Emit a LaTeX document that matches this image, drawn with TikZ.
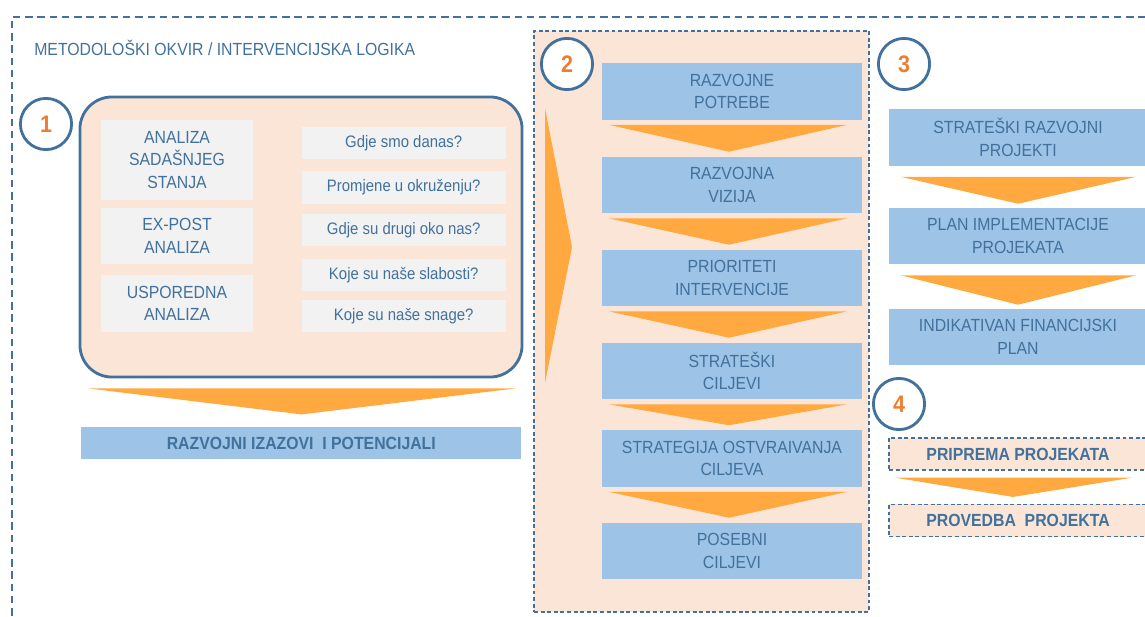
\documentclass[tikz,border=0pt]{standalone}
\usepackage{fontspec}
\setmainfont{Liberation Sans}[FakeStretch=0.9]
\usetikzlibrary{calc}

\definecolor{okvirplava}{HTML}{41719C}
\definecolor{tekstplava}{HTML}{41719C}
\definecolor{svijetloplava}{HTML}{9DC3E6}
\definecolor{breskva}{HTML}{FBE5D6}
\definecolor{sivkasta}{HTML}{F2F2F2}
\definecolor{narancasta}{HTML}{FFA940}
\definecolor{brojka}{HTML}{ED7D31}

\newcommand\boxfont{\fontsize{12.5}{16}\selectfont}
\newcommand\askfont{\fontsize{11.8}{14}\selectfont}
\newcommand\numfont{\fontsize{17}{20}\selectfont\bfseries}

\tikzset{
  plavi/.style={fill=svijetloplava, text=tekstplava, inner sep=0pt, align=center,
    minimum width=6.5cm, minimum height=1.4cm, font=\boxfont},
  sivi/.style={fill=sivkasta, text=tekstplava, inner sep=0pt, align=center,
    minimum width=3.775cm, minimum height=1.4cm, font=\boxfont},
  pitanje/.style={fill=sivkasta, text=tekstplava, inner sep=0pt,
    minimum width=5.1cm, minimum height=0.8cm, font=\askfont},
  crtkani/.style={fill=breskva, draw=okvirplava, line width=0.8pt, dash pattern=on 2.8pt off 1.9pt,
    text=tekstplava, inner sep=0pt, minimum width=6.45cm, minimum height=0.8cm, font=\boxfont\bfseries},
  krug/.style={circle, draw=okvirplava, line width=2pt, fill=white, inner sep=0pt,
    minimum size=1.28cm, text=brojka, font=\numfont},
  strelica/.style={fill=narancasta},
}

\begin{document}
\begin{tikzpicture}[x=0.025cm, y=-0.025cm]
  \useasboundingbox (0,0) rectangle (1145,617);

  % vanjski okvir
  \draw[okvirplava, line width=1.2pt, dash pattern=on 5.3pt off 3.4pt] (12,640) -- (12,17) -- (1170,17);
  \node[anchor=base west, text=tekstplava, inner sep=0pt, font=\boxfont] (naslov) at (34,56)
    {METODOLOŠKI OKVIR / INTERVENCIJSKA LOGIKA};

  % 1 - analiza
  \node[draw=okvirplava, fill=breskva, line width=2pt, rounded corners=0.8cm,
    minimum width=11.05cm, minimum height=7cm] (okvir1) at (301,237) {};
  \node[krug] (k1) at (46,124) {1};

  \node[sivi, minimum height=1.975cm] (a1) at (177,160) {ANALIZA\\SADAŠNJEG\\STANJA};
  \node[sivi] (a2) at (177,236) {EX-POST\\ANALIZA};
  \node[sivi] (a3) at (177,303.5) {USPOREDNA\\ANALIZA};

  \foreach \y/\t [count=\i] in {143/Gdje smo danas?, 187.5/Promjene u okruženju?,
      230/Gdje su drugi oko nas?, 275/Koje su naše slabosti?, 316/Koje su naše snage?}
    \node[pitanje] (q\i) at (403.7,\y) {\t};

  \node[plavi, minimum width=11cm, minimum height=0.815cm, font=\boxfont\bfseries] (izazovi) at (301.3,443)
    {RAZVOJNI IZAZOVI\ \ I POTENCIJALI};
  \fill[strelica] ($(okvir1.south west)+(10,10)$) -- ($(okvir1.south east)+(-8,10)$)
    -- ($(izazovi.north)+(0,-12)$) -- cycle;

  % 2 - strategija
  \node[fill=breskva, draw=okvirplava, line width=0.9pt, dash pattern=on 2.8pt off 1.9pt,
    minimum width=8.375cm, minimum height=14.525cm] (okvir2) at (701.5,321.5) {};
  \fill[strelica] (545,108) -- (572,247) -- (545,383) -- cycle;

  \node[plavi] (p1) at (732,91.5) {RAZVOJNE\\POTREBE};
  \node[plavi] (p2) at (732,185) {RAZVOJNA\\VIZIJA};
  \node[plavi] (p3) at (732,278) {PRIORITETI\\INTERVENCIJE};
  \node[plavi] (p4) at (732,371) {STRATEŠKI\\CILJEVI};
  \node[plavi] (p5) at (732,458.5) {STRATEGIJA OSTVRAIVANJA\\CILJEVA};
  \node[plavi] (p6) at (732,551) {POSEBNI\\CILJEVI};
  \foreach \a/\b in {p1/p2,p2/p3,p3/p4,p4/p5,p5/p6}
    \fill[strelica] ($(\a.south west)+(7,5)$) -- ($(\a.south east)+(-15,5)$) -- ($(\b.north)+(-3,-5)$) -- cycle;
  \node[krug] (k2) at (567,64) {2};

  % 3 - projekti
  \node[krug] (k3) at (904,64) {3};
  \node[plavi, minimum width=6.45cm] (s1) at (1018,137.5) {STRATEŠKI RAZVOJNI\\PROJEKTI};
  \node[plavi, minimum width=6.45cm] (s2) at (1018,236) {PLAN IMPLEMENTACIJE\\PROJEKATA};
  \node[plavi, minimum width=6.45cm] (s3) at (1018,337) {INDIKATIVAN FINANCIJSKI\\PLAN};
  \foreach \a/\b in {s1/s2,s2/s3}
    \fill[strelica] ($(\a.south west)+(12,11)$) -- ($(\a.south east)+(-11,11)$) -- ($(\b.north)+(0,-4)$) -- cycle;

  % 4 - provedba
  \node[krug] (k4) at (899,404) {4};
  \node[crtkani] (r1) at (1018,454) {PRIPREMA PROJEKATA};
  \node[crtkani] (r2) at (1018,520.5) {PROVEDBA\ \ PROJEKTA};
  \fill[strelica] ($(r1.south west)+(6,7)$) -- ($(r1.south east)+(-15,7)$) -- ($(r2.north)+(-5,-7)$) -- cycle;
\end{tikzpicture}
\end{document}
